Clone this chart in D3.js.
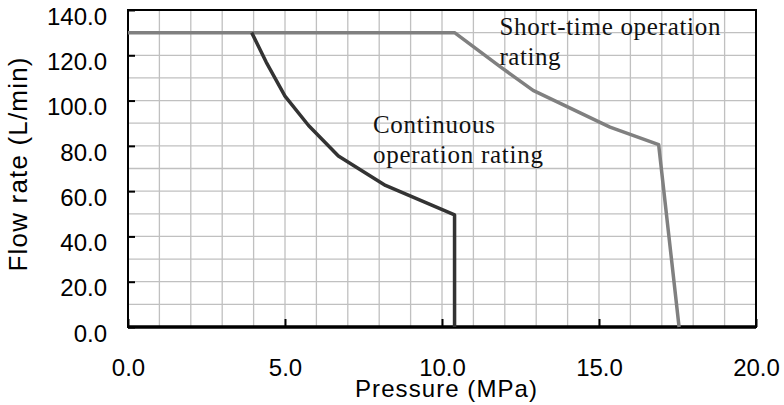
<!DOCTYPE html>
<html>
<head>
  <title>Flow rate vs Pressure</title>
  <script src="https://d3js.org/d3.v7.min.js"></script>
  <style>
    body { margin: 0; background: #fff; }
    .tick text { font-family: "Liberation Sans", Arial, sans-serif; font-size: 24px; fill: #000; }
    .note { font-family: "Liberation Serif", "Times New Roman", serif; font-size: 25px; fill: #111; }
    .axis-label { font-family: "Liberation Sans", Arial, sans-serif; font-size: 24px; fill: #000; }
  </style>
</head>
<body>
  <div id="chart"></div>
  <script>
    // chart values
    const pressureTicks = [0, 5, 10, 15, 20];
    const flowTicks = [0, 20, 40, 60, 80, 100, 120, 140];

    const contPressure = [3.94, 4.4, 5.0, 5.75, 6.7, 8.2, 10.4, 10.4];
    const contFlow = [130, 117, 102, 89, 75.5, 62.5, 49.5, 0];

    const shortPressure = [0, 10.4, 11.85, 12.9, 15.35, 16.9, 17.55];
    const shortFlow = [130, 130, 115, 104.5, 88.3, 80.5, 0];

    const contLabel = ["Continuous", "operation rating"];
    const shortLabel = ["Short-time operation", "rating"];

    const margin = { top: 10, right: 28, bottom: 78, left: 128 };
    const width = 784 - margin.left - margin.right;
    const height = 405 - margin.top - margin.bottom;

    const svg = d3.select("#chart")
      .append("svg")
      .attr("width", 784)
      .attr("height", 405);

    const g = svg.append("g")
      .attr("transform", "translate(" + margin.left + "," + margin.top + ")");

    const x = d3.scaleLinear().domain([0, 20]).range([0, width]);
    const y = d3.scaleLinear().domain([0, 140]).range([height, 0]);

    // grid: every 1 MPa and every 10 L/min
    g.append("g")
      .selectAll("line")
      .data(d3.range(1, 20))
      .enter().append("line")
      .attr("x1", d => x(d)).attr("x2", d => x(d))
      .attr("y1", 0).attr("y2", height)
      .style("stroke", "#c0c0c0").style("stroke-width", 1.3);

    g.append("g")
      .selectAll("line")
      .data(d3.range(10, 140, 10))
      .enter().append("line")
      .attr("x1", 0).attr("x2", width)
      .attr("y1", d => y(d)).attr("y2", d => y(d))
      .style("stroke", "#c0c0c0").style("stroke-width", 1.3);

    // frame
    g.append("rect")
      .attr("width", width).attr("height", height)
      .style("fill", "none").style("stroke", "#000").style("stroke-width", 2);

    // axes with inward ticks
    const xAxis = g.append("g")
      .attr("transform", "translate(0," + height + ")")
      .call(d3.axisBottom(x).tickValues(pressureTicks).tickFormat(d3.format(".1f"))
        .tickSizeInner(-8).tickSizeOuter(0).tickPadding(32));
    xAxis.select(".domain").remove();
    xAxis.selectAll(".tick line").style("stroke", "#000").style("stroke-width", 2);

    const yAxis = g.append("g")
      .call(d3.axisLeft(y).tickValues(flowTicks).tickFormat(d3.format(".1f"))
        .tickSizeInner(-7).tickSizeOuter(0).tickPadding(21));
    yAxis.select(".domain").remove();
    yAxis.selectAll(".tick line").style("stroke", "#000").style("stroke-width", 2);
    yAxis.selectAll(".tick text").attr("dy", "0.59em");

    // thick bottom axis line
    g.append("line")
      .attr("x1", 0).attr("x2", width)
      .attr("y1", height).attr("y2", height)
      .style("stroke", "#000").style("stroke-width", 3.5);

    const line = d3.line().x(d => x(d[0])).y(d => y(d[1]));

    g.append("path")
      .datum(shortPressure.map((p, i) => [p, shortFlow[i]]))
      .attr("d", line)
      .style("fill", "none").style("stroke", "#808080")
      .style("stroke-width", 3.5).style("stroke-linejoin", "round");

    g.append("path")
      .datum(contPressure.map((p, i) => [p, contFlow[i]]))
      .attr("d", line)
      .style("fill", "none").style("stroke", "#333")
      .style("stroke-width", 3.5).style("stroke-linejoin", "round");

    // notes
    const contNote = g.append("text").attr("class", "note");
    contNote.append("tspan").attr("x", x(7.8)).attr("y", y(85.8))
      .attr("textLength", 122).attr("lengthAdjust", "spacing").text(contLabel[0]);
    contNote.append("tspan").attr("x", x(7.8)).attr("y", y(72.5))
      .attr("textLength", 170).attr("lengthAdjust", "spacing").text(contLabel[1]);

    const shortNote = g.append("text").attr("class", "note");
    shortNote.append("tspan").attr("x", x(11.83)).attr("y", y(128.9))
      .attr("textLength", 221).attr("lengthAdjust", "spacing").text(shortLabel[0]);
    shortNote.append("tspan").attr("x", x(11.83)).attr("y", y(115.6))
      .attr("textLength", 61).attr("lengthAdjust", "spacing").text(shortLabel[1]);

    // axis titles
    svg.append("text")
      .attr("class", "axis-label")
      .attr("x", 446).attr("y", 397)
      .attr("text-anchor", "middle")
      .attr("textLength", 182).attr("lengthAdjust", "spacing")
      .text("Pressure (MPa)");

    svg.append("text")
      .attr("class", "axis-label")
      .attr("transform", "translate(26.5,164.5) rotate(-90)")
      .attr("text-anchor", "middle")
      .style("font-size", "26px")
      .attr("textLength", 214).attr("lengthAdjust", "spacing")
      .text("Flow rate (L/min)");
  </script>
</body>
</html>
